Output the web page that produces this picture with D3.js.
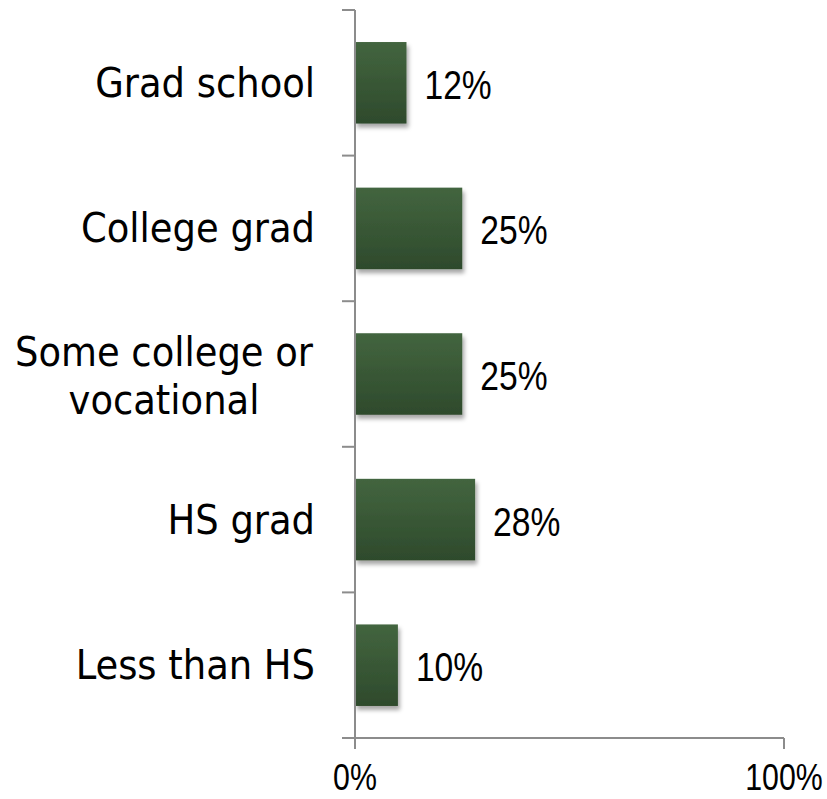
<!DOCTYPE html>
<html>
<head>
<meta charset="utf-8">
<script src="https://cdn.jsdelivr.net/npm/d3@7/dist/d3.min.js"></script>
<style>
  html, body { margin: 0; padding: 0; background: #fff; }
  svg { display: block; }
</style>
</head>
<body>
<svg id="chart" width="827" height="799"></svg>
<script>
// Education level shares
const categories = ["Grad school", "College grad", "Some college or\nvocational", "HS grad", "Less than HS"];
const values = [12, 25, 25, 28, 10];
const xTicks = [0, 100];

const svg = d3.select("#chart");
const x = d3.scaleLinear().domain([0, 100]).range([355, 784]);
const y = d3.scaleBand().domain(categories).range([10, 738])
  .paddingInner(0.44).paddingOuter(0.22);
const step = y.step();
const boundary = c => y(c) - y.paddingInner() * step / 2;

const defs = svg.append("defs");
const grad = defs.append("linearGradient").attr("id", "barFill")
  .attr("x1", 0).attr("y1", 0).attr("x2", 0).attr("y2", 1);
grad.append("stop").attr("offset", "0%").attr("stop-color", "#43653f");
grad.append("stop").attr("offset", "100%").attr("stop-color", "#2e4a2c");
const shadow = defs.append("filter").attr("id", "shadow")
  .attr("x", "-10%").attr("y", "-10%").attr("width", "130%").attr("height", "130%");
shadow.append("feDropShadow").attr("dx", 2).attr("dy", 4).attr("stdDeviation", 2.2)
  .attr("flood-color", "#000").attr("flood-opacity", 0.35);

const axisColor = "#8c8c8c";
const numFont = "'Liberation Sans', Arial, sans-serif";
const narrow = 0.82;   // horizontal squeeze for the narrow numeric face

// bars
svg.append("g").selectAll("rect").data(categories).join("rect")
  .attr("x", x(0))
  .attr("y", d => y(d))
  .attr("width", (d, i) => x(values[i]) - x(0))
  .attr("height", y.bandwidth())
  .attr("fill", "url(#barFill)")
  .attr("filter", "url(#shadow)");

// vertical axis with ticks at category boundaries
const ya = svg.append("g");
ya.append("line").attr("x1", x(0)).attr("x2", x(0)).attr("y1", 10).attr("y2", 749)
  .attr("stroke", axisColor).attr("stroke-width", 2);
const bounds = categories.map(boundary);
ya.selectAll("line.tick").data(bounds).join("line").attr("class", "tick")
  .attr("x1", x(0) - 13).attr("x2", x(0))
  .attr("y1", d => d).attr("y2", d => d)
  .attr("stroke", axisColor).attr("stroke-width", 2);

// horizontal axis
const xa = svg.append("g");
xa.append("line").attr("x1", x(0) - 13).attr("x2", x(100)).attr("y1", 738).attr("y2", 738)
  .attr("stroke", axisColor).attr("stroke-width", 2);
xa.selectAll("line.tick").data(xTicks).join("line").attr("class", "tick")
  .attr("x1", d => x(d)).attr("x2", d => x(d)).attr("y1", 738).attr("y2", 749)
  .attr("stroke", axisColor).attr("stroke-width", 2);
xa.selectAll("text").data(xTicks).join("text")
  .attr("transform", d => `translate(${x(d)},790) scale(${narrow},1)`)
  .attr("text-anchor", "middle")
  .attr("font-family", numFont)
  .attr("font-size", 37).attr("fill", "#000")
  .text(d => d + "%");

// category labels (multi-line labels are centred as a block)
const catG = svg.append("g")
  .attr("font-family", "'DejaVu Sans Condensed', 'DejaVu Sans', sans-serif")
  .attr("font-stretch", "condensed")
  .attr("font-size", 41).attr("fill", "#000");
categories.forEach(c => {
  const lines = c.split("\n");
  const multi = lines.length > 1;
  const cy = y(c) + y.bandwidth() / 2 + (multi ? 2 : 0);
  const lh = 48;
  lines.forEach((ln, j) => {
    catG.append("text")
      .attr("x", multi ? 164 : 315)
      .attr("y", cy + 14 + (j - (lines.length - 1) / 2) * lh)
      .attr("text-anchor", multi ? "middle" : "end")
      .text(ln);
  });
});

// value labels
svg.append("g").selectAll("text").data(categories).join("text")
  .attr("transform", (d, i) => `translate(${x(values[i]) + 18},${y(d) + y.bandwidth() / 2 + 16}) scale(${narrow},1)`)
  .attr("font-family", numFont)
  .attr("font-size", 41).attr("fill", "#000")
  .text((d, i) => values[i] + "%");
</script>
</body>
</html>
